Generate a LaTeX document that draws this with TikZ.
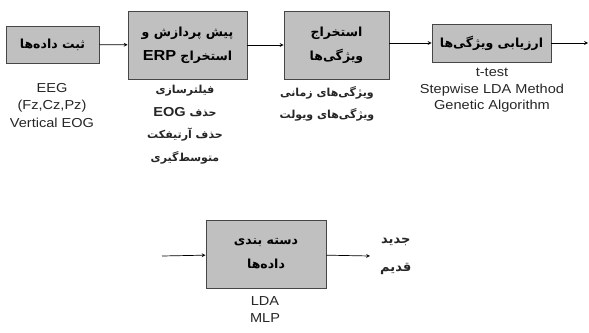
\documentclass[tikz,border=0pt]{standalone}
\usepackage{fontspec}
\setmainfont{Liberation Sans}
\newfontfamily\widesans[FakeStretch=1.12]{Liberation Sans}
\newfontfamily\farsi[Script=Arabic]{DejaVu Sans}
\TeXXeTstate=1
\usetikzlibrary{positioning}
\newcommand{\fa}[1]{{\farsi\beginR #1\endR}}
\definecolor{boxgray}{RGB}{192,192,192}
\definecolor{linegray}{RGB}{70,70,70}
\tikzstyle{block} = [rectangle, draw=linegray, line width=0.9pt, fill=boxgray, text centered, align=center, font=\bfseries\fontsize{12.5}{24}\selectfont]
\tikzstyle{note} = [align=center, text=black!85, inner sep=0pt]
\tikzstyle{arrow} = [line width=0.7pt, ->, >=stealth]

\begin{document}
\begin{tikzpicture}[x=1pt, y=-1pt]
		\useasboundingbox (0,0) rectangle (589,332);
		\node (rec) [block, minimum width=93pt, minimum height=37pt] at (52.5,44.5) {\fa{ثبت داده‌ها}};
		\node (pre) [block, minimum width=119pt, minimum height=68pt] at (187.5,45) {\fa{پیش پردازش و}\\ \fa{استخراج \beginL\widesans\bfseries\fontsize{14.5}{24}\selectfont ERP\endL}};
		\node (fex) [block, minimum width=105pt, minimum height=68pt] at (336.5,45) {\fa{استخراج}\\ \fa{ویژگی‌ها}};
		\node (fev) [block, minimum width=119pt, minimum height=38pt] at (491.5,43) {\fa{ارزیابی ویژگی‌ها}};
		\node (cls) [block, minimum width=120pt, minimum height=68pt] at (266,254) {\fa{دسته بندی}\\ \fa{داده‌ها}};
		\coordinate (out) at (588,43);
		\coordinate (in) at (162,256);
		\coordinate (res) at (370,256);

		\node (eeg) [note, anchor=north, font=\widesans\fontsize{13}{17.5}\selectfont] at (52,83) {EEG\\(Fz,Cz,Pz)\\Vertical EOG};
		\node (prep) [note, anchor=north, font=\bfseries\fontsize{11}{22.5}\selectfont] at (185,85) {\fa{فیلترسازی}\\ \fa{حذف \beginL\widesans\fontsize{13}{22}\selectfont EOG\endL}\\ \fa{حذف آرتیفکت}\\ \fa{متوسط‌گیری}};
		\node (feat) [note, anchor=north, font=\bfseries\fontsize{11}{22}\selectfont] at (327,86) {\fa{ویژگی‌های زمانی}\\ \fa{ویژگی‌های ویولت}};
		\node (sel) [note, anchor=north, font=\widesans\fontsize{13}{16.5}\selectfont] at (492,68) {t-test\\Stepwise LDA Method\\Genetic Algorithm};
		\node (meth) [note, anchor=north, font=\widesans\fontsize{13}{17}\selectfont] at (265,296) {LDA\\MLP};
		\node (lab) [note, anchor=west, font=\bfseries\fontsize{13}{28}\selectfont] at (380,256) {\fa{جدید}\\ \fa{قدیم}};

		\draw [arrow] (rec) -- (pre);
		\draw [arrow] (pre) -- (fex);
		\draw [arrow] (fex.east |- fev) -- (fev);
		\draw [arrow] (fev) -- (out);
		\draw [arrow] (in) -- (cls);
		\draw [arrow] (cls) -- (res);
	\end{tikzpicture}
\end{document}
